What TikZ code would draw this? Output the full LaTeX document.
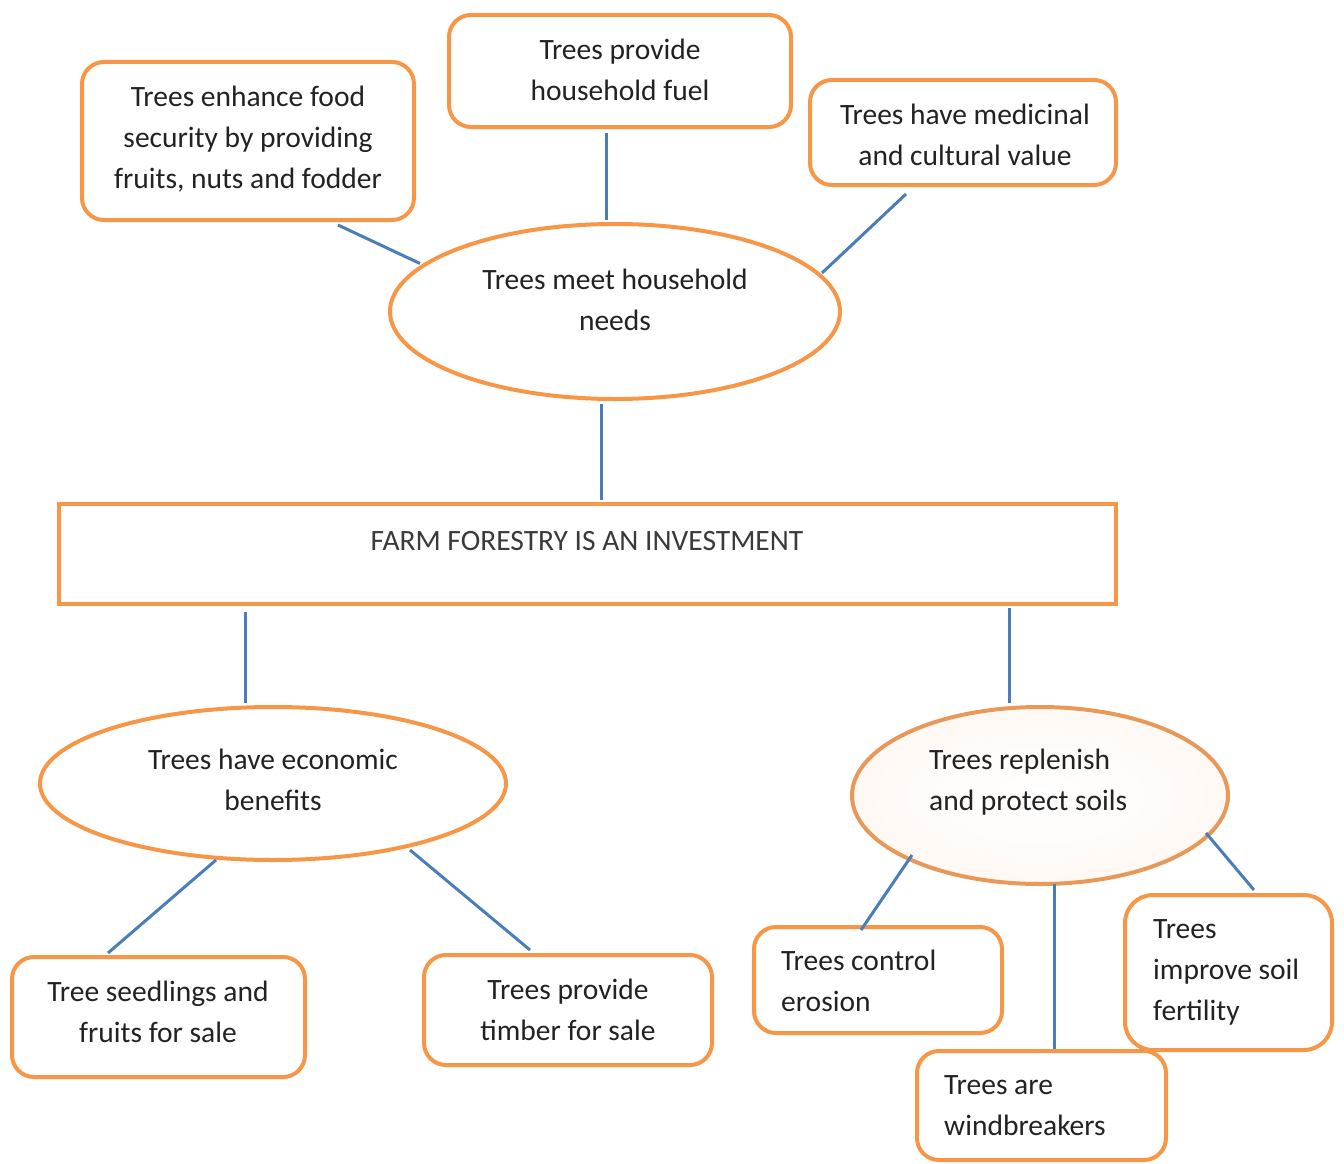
\documentclass[tikz,border=0pt]{standalone}
\usepackage{fontspec}
\setmainfont{Carlito}
\usetikzlibrary{shapes.geometric,calc}
\definecolor{boxorange}{HTML}{F79646}
\definecolor{soilrim}{HTML}{E8995A}
\definecolor{linkblue}{HTML}{4A7EBB}
\definecolor{inkgray}{HTML}{222222}
\definecolor{capgray}{HTML}{3A3A3A}
\begin{document}
\begin{tikzpicture}[x=1pt,y=-1pt,
  box/.style={draw=boxorange,line width=4pt,rounded corners=22pt,inner sep=0pt,outer sep=0pt},
  plainbox/.style={draw=boxorange,line width=4pt,inner sep=0pt,outer sep=0pt},
  oval/.style={ellipse,draw=boxorange,line width=4pt,inner sep=0pt,outer sep=0pt},
  txt/.style={font=\fontsize{29.5}{41}\selectfont,text=inkgray,inner sep=0pt,align=center},
  ltxt/.style={txt,align=left,anchor=west},
  link/.style={draw=linkblue,line width=3pt}]
\useasboundingbox (0,0) rectangle (1344,1164);

% top tier: household needs
\node[box,minimum width=332pt,minimum height=158pt] (food) at (248,141) {};
\node[box,minimum width=342pt,minimum height=112pt] (fuel) at (620,71) {};
\node[box,minimum width=306pt,minimum height=105pt] (med) at (963,132.5) {};
\node[oval,minimum width=450pt,minimum height=175pt] (hh) at (615,311.5) {};

% central statement
\node[plainbox,minimum width=1057pt,minimum height=100pt] (farm) at (587.5,554) {};

% lower tier: economic and soil benefits
\node[oval,minimum width=466pt,minimum height=153pt] (econ) at (273,783.5) {};
\node[oval,draw=soilrim,inner color=white,outer color=boxorange!6,
      minimum width=376pt,minimum height=177pt] (soil) at (1040,795.5) {};
\node[box,minimum width=293pt,minimum height=120pt] (seed) at (158.5,1017) {};
\node[box,minimum width=288pt,minimum height=110pt] (timber) at (568,1010) {};
\node[box,minimum width=248pt,minimum height=106pt] (erosion) at (878,980) {};
\node[box,minimum width=249pt,minimum height=109pt] (wind) at (1041.5,1105.5) {};
\node[box,rounded corners=28pt,minimum width=207pt,minimum height=155pt] (fert) at (1228.5,972.5) {};

% labels
\node[txt] (food-t) at (248,139) {Trees enhance food\\security by providing\\fruits, nuts and fodder};
\node[txt] (fuel-t) at (620,70) {Trees provide\\household fuel};
\node[txt] (med-t) at (965,135) {Trees have medicinal\\and cultural value};
\node[txt] (hh-t) at (615,300) {Trees meet household\\needs};
\node[txt,text=capgray] (farm-t) at (587,541) {FARM FORESTRY IS AN INVESTMENT};
\node[txt] (econ-t) at (273,780) {Trees have economic\\benefits};
\node[ltxt] (soil-t) at (929,782) {Trees replenish\\and protect soils};
\node[txt] (seed-t) at (158,1012) {Tree seedlings and\\fruits for sale};
\node[txt] (timber-t) at (568,1010) {Trees provide\\timber for sale};
\node[ltxt] (erosion-t) at (781,981) {Trees control\\erosion};
\node[ltxt] (wind-t) at (944,1106) {Trees are\\windbreakers};
\node[ltxt] (fert-t) at (1153,972) {Trees\\improve soil\\fertility};

% connectors
\draw[link] ($(food.south)+(90,5)$) -- ($(hh.center)+(-195,-48)$);
\draw[link] ($(fuel.south)+(-14,6)$) -- ($(hh.north)+(-9,-4)$);
\draw[link] ($(med.south)+(-57,9)$) -- ($(hh.center)+(207,-38.5)$);
\draw[link] ($(hh.south)+(-14,5)$) -- ($(farm.north)+(13.5,-4)$);
\draw[link] ($(farm.south)+(-342.5,8)$) -- ($(econ.north)+(-28,-4)$);
\draw[link] ($(farm.south)+(421.5,4)$) -- ($(soil.north)+(-31,-4)$);
\draw[link] ($(econ.center)+(-57,76.5)$) -- ($(seed.north)+(-50.5,-4)$);
\draw[link] ($(econ.center)+(137,66.5)$) -- ($(timber.north)+(-38,-5)$);
\draw[link] ($(soil.center)+(-128,59.5)$) -- ($(erosion.north)+(-17,3)$);
\draw[link] ($(soil.south)+(14,0)$) -- ($(wind.north)+(12.5,-2)$);
\draw[link] ($(soil.center)+(166,37.5)$) -- ($(fert.north)+(25.5,-5)$);
\end{tikzpicture}
\end{document}
